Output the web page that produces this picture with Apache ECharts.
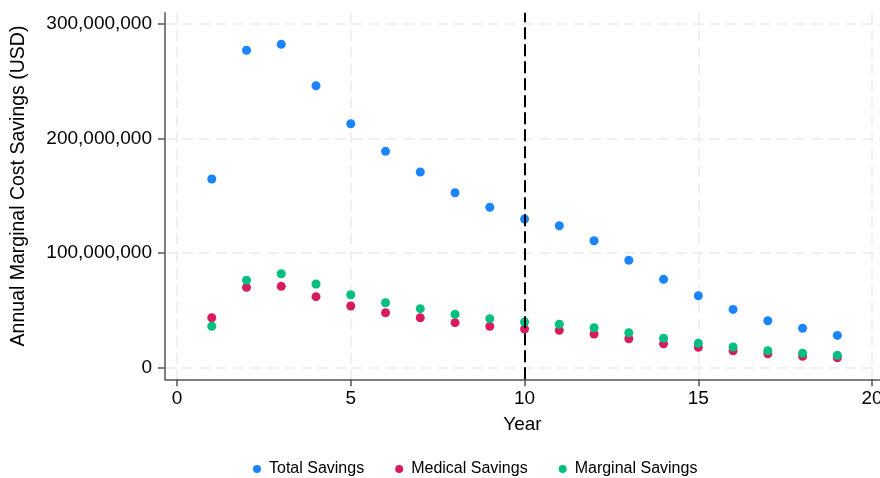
<!DOCTYPE html>
<html>
<head>
<meta charset="utf-8">
<script src="https://cdn.jsdelivr.net/npm/echarts@6/dist/echarts.min.js"></script>
<style>
  html, body { margin: 0; padding: 0; background: #fff; }
  #chart { width: 880px; height: 478px; }
</style>
</head>
<body>
<div id="chart"></div>
<script>
// Years since programme start
const years = [1, 2, 3, 4, 5, 6, 7, 8, 9, 10, 11, 12, 13, 14, 15, 16, 17, 18, 19];

// Annual marginal cost savings, USD
const totalSavings = [164.7e6, 277.0e6, 282.2e6, 246.1e6, 212.9e6, 188.8e6, 170.8e6, 152.7e6, 140.0e6, 129.8e6,
  123.9e6, 110.8e6, 93.7e6, 77.1e6, 62.8e6, 50.9e6, 41.0e6, 34.4e6, 28.2e6];
const medicalSavings = [43.6e6, 70.1e6, 71.0e6, 62.0e6, 53.8e6, 48.0e6, 43.6e6, 39.3e6, 36.1e6, 33.8e6,
  32.6e6, 29.4e6, 25.3e6, 20.9e6, 17.8e6, 14.8e6, 12.2e6, 9.9e6, 8.7e6];
const marginalSavings = [36.1e6, 76.3e6, 82.0e6, 73.0e6, 63.7e6, 56.7e6, 51.5e6, 46.6e6, 42.8e6, 39.9e6,
  37.9e6, 34.9e6, 30.5e6, 25.7e6, 21.3e6, 18.1e6, 14.8e6, 12.6e6, 10.8e6];

// Axis ticks and the reference year marked with a dashed line
const xTicks = [0, 5, 10, 15, 20];
const yTicks = [0, 100e6, 200e6, 300e6];
const referenceYear = 10;

const seriesNames = ['Total Savings', 'Medical Savings', 'Marginal Savings'];
const seriesColors = ['#1A85FF', '#D81B60', '#00BF7F'];

const pair = (vals) => years.map((y, i) => [y, vals[i]]);
const FONT = '"Liberation Sans", Arial, Helvetica, sans-serif';

const gridLine = { show: true, lineStyle: { color: '#ebebeb', width: 1.5, type: [11, 6] } };
const axisLine = { show: true, onZero: false, lineStyle: { color: '#555', width: 1.5 } };

const chart = echarts.init(document.getElementById('chart'), null, { renderer: 'canvas' });

chart.setOption({
  animation: false,
  backgroundColor: '#fff',
  textStyle: { fontFamily: FONT },
  grid: { left: 165, right: 0, top: 12.7, bottom: 98.7, containLabel: false, outerBoundsMode: 'none' },
  xAxis: {
    type: 'value',
    min: -0.345,
    max: 20.227,
    name: 'Year',
    nameLocation: 'middle',
    nameGap: 36,
    nameTextStyle: { fontSize: 19, color: '#000', fontFamily: FONT },
    axisLine: axisLine,
    axisTick: { show: true, length: 7, customValues: xTicks, lineStyle: { color: '#555', width: 1.5 } },
    axisLabel: { customValues: xTicks, fontSize: 19, color: '#000', margin: 10, fontFamily: FONT },
    splitLine: gridLine
  },
  yAxis: {
    type: 'value',
    min: -10.12e6,
    max: 309.8e6,
    name: 'Annual Marginal Cost Savings (USD)',
    nameLocation: 'middle',
    nameGap: 136,
    nameTextStyle: { fontSize: 19.5, color: '#000', fontFamily: FONT, padding: [0, 0, 0, 20] },
    axisLine: axisLine,
    axisTick: { show: true, length: 7, customValues: yTicks, lineStyle: { color: '#555', width: 1.5 } },
    axisLabel: {
      customValues: yTicks,
      fontSize: 19,
      color: '#000',
      margin: 13,
      fontFamily: FONT,
      formatter: (v) => Math.round(v).toLocaleString('en-US')
    },
    splitLine: gridLine
  },
  legend: {
    data: seriesNames,
    left: 248,
    top: 456,
    icon: 'circle',
    itemWidth: 14,
    itemHeight: 8,
    itemGap: 31,
    textStyle: { fontSize: 16, color: '#000', fontFamily: FONT }
  },
  series: [
    {
      name: seriesNames[0],
      type: 'scatter',
      data: pair(totalSavings),
      symbolSize: 9,
      itemStyle: { color: seriesColors[0], opacity: 1 },
      z: 2,
      markLine: {
        silent: true,
        symbol: ['none', 'none'],
        label: { show: false },
        lineStyle: { color: '#000', width: 2, type: [12, 5] },
        data: [{ xAxis: referenceYear }]
      }
    },
    {
      name: seriesNames[1],
      type: 'scatter',
      data: pair(medicalSavings),
      symbolSize: 9,
      itemStyle: { color: seriesColors[1], opacity: 1 },
      z: 3
    },
    {
      name: seriesNames[2],
      type: 'scatter',
      data: pair(marginalSavings),
      symbolSize: 9,
      itemStyle: { color: seriesColors[2], opacity: 1 },
      z: 4
    }
  ]
});
</script>
</body>
</html>
